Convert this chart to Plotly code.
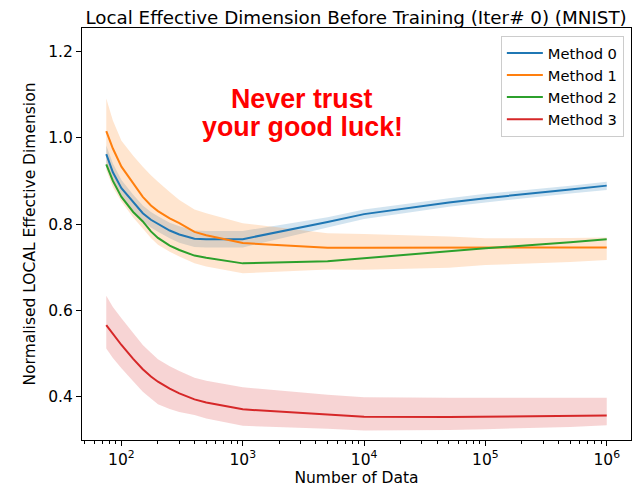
import plotly.graph_objects as go

# number of data points (x axis, log scale)
n_data = [75, 85, 100, 125, 150, 175, 200, 250, 300, 400, 500, 1000,
          5000, 10000, 50000, 100000, 500000, 1000000]

method0 = [0.962, 0.920, 0.883, 0.850, 0.825, 0.810, 0.800, 0.785, 0.776, 0.766, 0.765, 0.765,
           0.805, 0.823, 0.850, 0.860, 0.880, 0.889]
method0_lo = [0.942, 0.901, 0.865, 0.832, 0.807, 0.792, 0.782, 0.767, 0.757, 0.747, 0.746, 0.746,
              0.792, 0.812, 0.840, 0.850, 0.871, 0.879]
method0_hi = [0.982, 0.940, 0.902, 0.868, 0.843, 0.828, 0.818, 0.803, 0.795, 0.785, 0.784, 0.784,
              0.816, 0.834, 0.860, 0.870, 0.889, 0.898]

method1 = [1.015, 0.975, 0.933, 0.893, 0.863, 0.843, 0.830, 0.813, 0.802, 0.782, 0.774, 0.756,
           0.745, 0.745, 0.745, 0.745, 0.745, 0.746]
method1_lo = [0.925, 0.885, 0.852, 0.815, 0.790, 0.768, 0.752, 0.736, 0.725, 0.709, 0.702, 0.686,
              0.695, 0.694, 0.699, 0.705, 0.712, 0.717]
method1_hi = [1.091, 1.040, 0.993, 0.958, 0.933, 0.913, 0.898, 0.874, 0.856, 0.834, 0.825, 0.802,
              0.779, 0.777, 0.771, 0.767, 0.768, 0.769]

method2 = [0.938, 0.900, 0.863, 0.828, 0.806, 0.783, 0.768, 0.750, 0.740, 0.727, 0.722, 0.709,
           0.714, 0.721, 0.737, 0.744, 0.758, 0.765]

method3 = [0.566, 0.545, 0.520, 0.488, 0.464, 0.447, 0.435, 0.419, 0.408, 0.394, 0.387, 0.371,
           0.358, 0.354, 0.353, 0.354, 0.356, 0.357]
method3_lo = [0.512, 0.490, 0.466, 0.436, 0.412, 0.396, 0.383, 0.372, 0.365, 0.358, 0.350, 0.333,
              0.326, 0.322, 0.323, 0.325, 0.330, 0.334]
method3_hi = [0.634, 0.608, 0.582, 0.548, 0.520, 0.502, 0.487, 0.471, 0.460, 0.444, 0.437, 0.422,
              0.405, 0.399, 0.398, 0.398, 0.398, 0.398]

names = ["Method 0", "Method 1", "Method 2", "Method 3"]
colors = ["#1f77b4", "#ff7f0e", "#2ca02c", "#d62728"]
fills = ["rgba(31,119,180,0.2)", "rgba(255,127,14,0.2)", "rgba(44,160,44,0.2)", "rgba(214,39,40,0.2)"]

x_ticks = [100, 1000, 10000, 100000, 1000000]
x_ticktext = ["10<sup>2</sup>", "10<sup>3</sup>", "10<sup>4</sup>", "10<sup>5</sup>", "10<sup>6</sup>"]

series = [
    (method0, method0_lo, method0_hi),
    (method1, method1_lo, method1_hi),
    (method2, None, None),
    (method3, method3_lo, method3_hi),
]

fig = go.Figure()

# bands first so lines are drawn on top
for i, (mean, lo, hi) in enumerate(series):
    if lo is None:
        continue
    fig.add_trace(go.Scatter(
        x=n_data + n_data[::-1], y=hi + lo[::-1],
        fill="toself", fillcolor=fills[i], mode="none",
        line=dict(width=0), showlegend=False, hoverinfo="skip"))

for i, (mean, lo, hi) in enumerate(series):
    fig.add_trace(go.Scatter(
        x=n_data, y=mean, mode="lines", name=names[i],
        legendgroup=names[i],
        line=dict(color=colors[i], width=2)))

# two separate lines to keep the tight line spacing
luck_font = dict(family="Liberation Sans", size=26.8, color="red", weight="bold")
fig.add_annotation(x=0.401, y=0.828, xref="paper", yref="paper", yanchor="middle",
                   text="Never trust", showarrow=False, font=luck_font)
fig.add_annotation(x=0.401, y=0.759, xref="paper", yref="paper", yanchor="middle",
                   text="your good luck!", showarrow=False, font=luck_font)

axis_common = dict(
    showline=True, mirror=True, linecolor="black", linewidth=1,
    ticks="outside", ticklen=5, tickcolor="black", showgrid=False,
    zeroline=False, automargin=False, tickfont=dict(size=15.5, color="black"),
)

fig.update_xaxes(
    type="log", range=[1.675, 6.2],
    tickvals=x_ticks, ticktext=x_ticktext,
    minor=dict(ticks="outside", ticklen=3, tickcolor="black", dtick="D1", showgrid=False),
    title=dict(text="Number of Data", font=dict(size=15.5, color="black"), standoff=4),
    **axis_common)
fig.update_yaxes(
    range=[0.300, 1.254], dtick=0.2, tick0=0, tickformat=".1f",
    title=dict(text="Normalised LOCAL Effective Dimension", font=dict(size=15.5, color="black"), standoff=8),
    **axis_common)

# page body adds an 8px offset, so the figure is drawn 8px smaller
fig.update_layout(
    width=634, height=482,
    margin=dict(l=74, r=11, t=20, b=50),
    plot_bgcolor="white", paper_bgcolor="white",
    font=dict(family="DejaVu Sans", color="black"),
    title=dict(text="Local Effective Dimension Before Training (Iter# 0) (MNIST)",
               x=0.549, xanchor="center", y=0.98, yanchor="middle", automargin=False,
               font=dict(size=18.3, color="black")),
    legend=dict(x=0.987, y=0.981, xanchor="right", yanchor="top",
                bgcolor="white", bordercolor="#cccccc", borderwidth=1,
                font=dict(size=14.7), tracegroupgap=0, traceorder="grouped",
                itemwidth=36),
)

fig.write_html("out.html")
